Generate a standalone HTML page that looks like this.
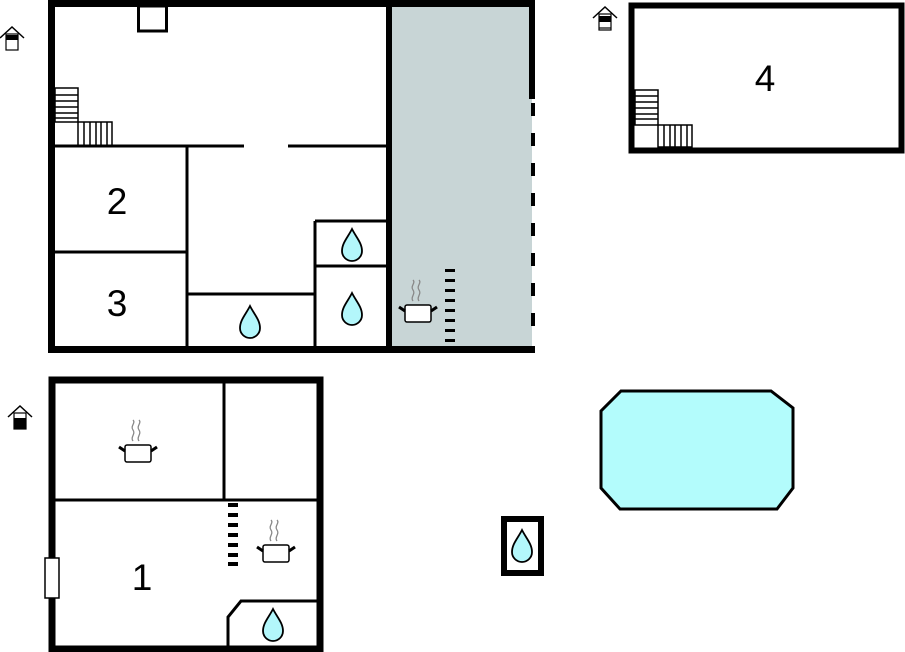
<!DOCTYPE html>
<html><head><meta charset="utf-8"><style>
html,body{margin:0;padding:0;background:#fff;}
svg{display:block;}
text{font-family:"Liberation Sans",sans-serif;font-size:37px;fill:#000;}
</style></head><body>
<svg width="905" height="652" viewBox="0 0 905 652" xmlns="http://www.w3.org/2000/svg">
<defs>
<g id="drop"><path d="M0,-16 C4,-8 10,-2 10,6 C10,12 5,16 0,16 C-5,16 -10,12 -10,6 C-10,-2 -4,-8 0,-16 Z" fill="#b3f7fb" stroke="#000" stroke-width="1.8"/></g>
<g id="pot">
<path d="M-5,-12 c-3,-4 3,-7 0,-11 c-3,-4 3,-7 0,-10 M1,-12 c-3,-4 3,-7 0,-11 c-3,-4 3,-7 0,-10" fill="none" stroke="#888" stroke-width="1.3"/>
<rect x="-13" y="-8" width="26" height="17" rx="2" fill="#fff" stroke="#000" stroke-width="1.5"/>
<line x1="-13" y1="-2" x2="-19" y2="-6" stroke="#000" stroke-width="3"/>
<line x1="13" y1="-2" x2="19" y2="-6" stroke="#000" stroke-width="3"/>
</g>
<g id="house">
<path d="M-12,-6 L0,-17 L12,-6" fill="none" stroke="#000" stroke-width="1.5"/>
<rect x="-6" y="-10" width="12" height="16" fill="#fff" stroke="#000" stroke-width="1.2"/>
</g>
</defs>

<rect x="392" y="6" width="140" height="342" fill="#c8d5d6"/>
<g fill="#000">
<rect x="48" y="0" width="487" height="7"/>
<rect x="48" y="0" width="7" height="353"/>
<rect x="48" y="346" width="487" height="7"/>
<rect x="386" y="0" width="6" height="353"/>
<rect x="529" y="0" width="6" height="99"/>
<rect x="531" y="103" width="4" height="13"/>
<rect x="531" y="133" width="4" height="13"/>
<rect x="531" y="163" width="4" height="13"/>
<rect x="531" y="193" width="4" height="13"/>
<rect x="531" y="223" width="4" height="13"/>
<rect x="531" y="253" width="4" height="13"/>
<rect x="531" y="283" width="4" height="13"/>
<rect x="531" y="313" width="4" height="13"/>
</g>
<rect x="138.5" y="6" width="28" height="25" fill="#fff" stroke="#000" stroke-width="3"/>
<g stroke="#000" stroke-width="3" fill="none">
<line x1="55" y1="146" x2="244" y2="146"/>
<line x1="288" y1="146" x2="387" y2="146"/>
<line x1="187" y1="146" x2="187" y2="347"/>
<line x1="55" y1="252" x2="187" y2="252"/>
<line x1="187" y1="294" x2="315" y2="294"/>
<line x1="315" y1="221" x2="315" y2="347"/>
<line x1="315" y1="221" x2="387" y2="221"/>
<line x1="315" y1="266" x2="387" y2="266"/>
</g>
<g stroke="#000" stroke-width="1.5" fill="none">
<rect x="55" y="88" width="23" height="34"/>
<line x1="55" y1="95" x2="78" y2="95"/><line x1="55" y1="101" x2="78" y2="101"/><line x1="55" y1="107" x2="78" y2="107"/><line x1="55" y1="113" x2="78" y2="113"/><line x1="55" y1="118" x2="78" y2="118"/>
<rect x="78" y="122" width="34" height="24"/>
<line x1="84" y1="122" x2="84" y2="146"/><line x1="90" y1="122" x2="90" y2="146"/><line x1="96" y1="122" x2="96" y2="146"/><line x1="101" y1="122" x2="101" y2="146"/><line x1="107" y1="122" x2="107" y2="146"/>
</g>
<g fill="#000">
<rect x="445" y="269" width="10" height="3"/><rect x="445" y="279" width="10" height="3"/><rect x="445" y="289" width="10" height="3"/><rect x="445" y="299" width="10" height="3"/><rect x="445" y="309" width="10" height="3"/><rect x="445" y="319" width="10" height="3"/><rect x="445" y="329" width="10" height="3"/><rect x="445" y="339" width="10" height="3"/>
</g>
<use href="#pot" x="418" y="313"/>
<use href="#drop" x="352" y="245"/>
<use href="#drop" x="352" y="309"/>
<use href="#drop" x="250" y="322"/>
<text x="117" y="214" text-anchor="middle">2</text>
<text x="117" y="316" text-anchor="middle">3</text>
<use href="#house" x="12" y="44"/>
<rect x="6" y="35" width="12" height="5" fill="#000"/>

<rect x="631.5" y="5.5" width="270" height="145" fill="none" stroke="#000" stroke-width="6"/>
<g stroke="#000" stroke-width="1.5" fill="none">
<rect x="635" y="90" width="23" height="35"/>
<line x1="635" y1="96" x2="658" y2="96"/><line x1="635" y1="102" x2="658" y2="102"/><line x1="635" y1="108" x2="658" y2="108"/><line x1="635" y1="114" x2="658" y2="114"/><line x1="635" y1="119" x2="658" y2="119"/>
<rect x="658" y="125" width="34" height="22"/>
<line x1="664" y1="125" x2="664" y2="147"/><line x1="670" y1="125" x2="670" y2="147"/><line x1="675" y1="125" x2="675" y2="147"/><line x1="681" y1="125" x2="681" y2="147"/><line x1="687" y1="125" x2="687" y2="147"/>
</g>
<text x="765" y="91" text-anchor="middle">4</text>
<use href="#house" x="605" y="24"/>
<rect x="599" y="16" width="12" height="6" fill="#000"/>
<line x1="599" y1="28" x2="611" y2="28" stroke="#000" stroke-width="1.2"/>

<rect x="52" y="380" width="268" height="269" fill="none" stroke="#000" stroke-width="7"/>
<g stroke="#000" stroke-width="3" fill="none">
<line x1="224" y1="380" x2="224" y2="500"/>
<line x1="55" y1="500" x2="318" y2="500"/>
<path d="M228,650 L228,617 L241,601 L318,601"/>
</g>
<g fill="#000">
<rect x="228" y="503" width="10" height="4"/><rect x="228" y="513" width="10" height="4"/><rect x="228" y="523" width="10" height="4"/><rect x="228" y="533" width="10" height="4"/><rect x="228" y="543" width="10" height="4"/><rect x="228" y="553" width="10" height="4"/><rect x="228" y="562" width="10" height="4"/>
</g>
<rect x="45" y="558" width="14" height="40" fill="#fff" stroke="#000" stroke-width="1.5"/>
<use href="#pot" x="138" y="453"/>
<use href="#pot" x="276" y="553"/>
<use href="#drop" x="273" y="625"/>
<text x="142" y="590" text-anchor="middle">1</text>
<use href="#house" x="20" y="423"/>
<rect x="14" y="418" width="12" height="11" fill="#000"/>

<path d="M621,391 L771,391 L793,408 L793,488 L777,509 L620,509 L601,488 L601,411 Z" fill="#b3fcfc" stroke="#000" stroke-width="3"/>
<rect x="504" y="519" width="37" height="54" fill="#fff" stroke="#000" stroke-width="6"/>
<use href="#drop" x="522" y="546"/>
</svg>
</body></html>
